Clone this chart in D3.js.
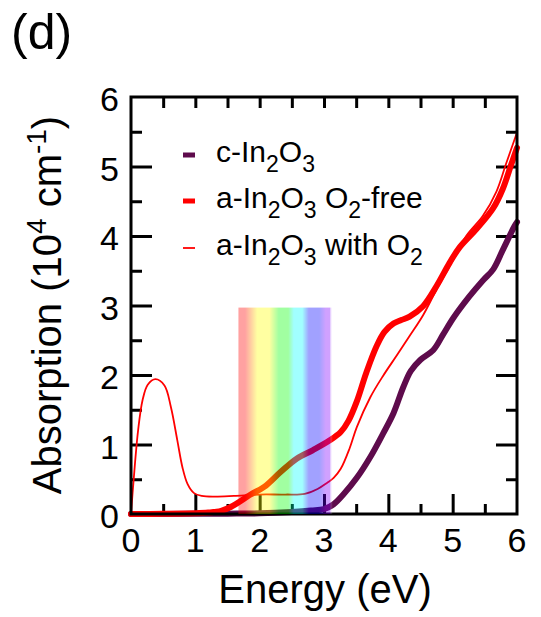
<!DOCTYPE html>
<html>
<head>
<meta charset="utf-8">
<script src="https://cdn.jsdelivr.net/npm/d3@7"></script>
<style>
  html, body { margin: 0; padding: 0; background: #fff; }
  svg { display: block; font-family: "Liberation Sans", Arial, Helvetica, sans-serif; }
</style>
</head>
<body>
<svg id="chart" width="541" height="617"></svg>
<script>
// ---- data ----
const cEnergy = [0, 0.5, 1.0, 1.5, 2.0, 2.5, 2.8, 3.0, 3.15, 3.3, 3.51, 3.72, 3.92, 4.08, 4.23, 4.35, 4.5, 4.7, 4.85, 5.01, 5.26, 5.47, 5.63, 5.78, 5.96, 6.0];
const cAbs    = [0, 0, 0.002, 0.005, 0.01, 0.03, 0.05, 0.07, 0.14, 0.28, 0.52, 0.82, 1.16, 1.45, 1.82, 2.06, 2.22, 2.36, 2.58, 2.82, 3.13, 3.36, 3.52, 3.8, 4.14, 4.2];

const freeEnergy = [0, 0.5, 1.0, 1.2, 1.4, 1.55, 1.86, 2.07, 2.32, 2.58, 2.83, 3.09, 3.26, 3.38, 3.51, 3.66, 3.82, 3.94, 4.08, 4.2, 4.33, 4.54, 4.75, 4.95, 5.11, 5.37, 5.63, 5.78, 5.91, 6.0];
const freeAbs    = [0, 0.003, 0.01, 0.02, 0.045, 0.1, 0.28, 0.39, 0.6, 0.8, 0.92, 1.06, 1.18, 1.34, 1.62, 2.04, 2.42, 2.62, 2.74, 2.79, 2.84, 2.99, 3.28, 3.61, 3.84, 4.1, 4.4, 4.68, 5.03, 5.27];

const o2Energy = [0, 0.04, 0.11, 0.18, 0.26, 0.38, 0.52, 0.62, 0.72, 0.80, 0.88, 0.98, 1.1, 1.3, 1.6, 2.0, 2.4, 2.7, 2.9, 3.05, 3.15, 3.26, 3.4, 3.51, 3.72, 3.92, 4.13, 4.33, 4.54, 4.75, 5.01, 5.21, 5.47, 5.68, 5.83, 6.0];
const o2Abs    = [0, 0.48, 1.2, 1.64, 1.86, 1.94, 1.85, 1.54, 1.06, 0.67, 0.43, 0.3, 0.26, 0.25, 0.26, 0.28, 0.28, 0.29, 0.36, 0.45, 0.52, 0.65, 0.95, 1.25, 1.68, 1.99, 2.28, 2.56, 2.86, 3.23, 3.66, 4.0, 4.29, 4.64, 5.04, 5.49];

const xTicks = [0, 1, 2, 3, 4, 5, 6];
const yTicks = [0, 1, 2, 3, 4, 5, 6];
const minorTicks = [0.5, 1.5, 2.5, 3.5, 4.5, 5.5];
const allHalfTicks = [0.5, 1, 1.5, 2, 2.5, 3, 3.5, 4, 4.5, 5, 5.5];

const visibleBand = [1.67, 3.13];   // energy range of the visible-light band (eV)
const visibleBandTop = 2.97;
const bandColors = ["#ff0000", "#ff0000", "#ffff00", "#ffff00", "#00ff00", "#00ff00", "#00ffff", "#00ffff", "#0000ff", "#0000ff", "#8000ff", "#8000ff", "#ffffff"];
const bandStops  = [0, 0.07, 0.2, 0.33, 0.43, 0.53, 0.59, 0.68, 0.75, 0.86, 0.93, 0.97, 1.0];

const legendLabels = [
  [["c-In", 0], ["2", 1], ["O", 0], ["3", 1]],
  [["a-In", 0], ["2", 1], ["O", 0], ["3", 1], [" O", 0], ["2", 1], ["-free", 0]],
  [["a-In", 0], ["2", 1], ["O", 0], ["3", 1], [" with O", 0], ["2", 1]]
];

// ---- drawing ----
const svg = d3.select("#chart");
const L = 131, R = 517, T = 97, B = 514;
const x = d3.scaleLinear().domain([0, 6]).range([L, R]);
const y = d3.scaleLinear().domain([0, 6]).range([B, T]);

const series = [
  { xs: cEnergy, ys: cAbs, color: "#5e0b4c", width: 6 },
  { xs: freeEnergy, ys: freeAbs, color: "#ff0000", width: 6 },
  { xs: o2Energy, ys: o2Abs, color: "#ff0000", width: 1.8 }
];

// ticks
const tickStyle = g => {
  g.select(".domain").remove();
  g.selectAll(".tick line").attr("stroke", "#000").attr("stroke-width", 3);
  g.selectAll(".tick text").remove();
};
svg.append("g").attr("transform", `translate(0,${B})`)
  .call(d3.axisBottom(x).tickValues(xTicks.slice(1, -1)).tickSize(-20)).call(tickStyle);
svg.append("g").attr("transform", `translate(0,${B})`)
  .call(d3.axisBottom(x).tickValues(minorTicks).tickSize(-10)).call(tickStyle);
svg.append("g").attr("transform", `translate(0,${T})`)
  .call(d3.axisTop(x).tickValues(allHalfTicks).tickSize(-11)).call(tickStyle);
svg.append("g").attr("transform", `translate(${L},0)`)
  .call(d3.axisLeft(y).tickValues(yTicks.slice(1, -1)).tickSize(-21)).call(tickStyle);
svg.append("g").attr("transform", `translate(${L},0)`)
  .call(d3.axisLeft(y).tickValues(minorTicks).tickSize(-11)).call(tickStyle);
svg.append("g").attr("transform", `translate(${R},0)`)
  .call(d3.axisRight(y).tickValues(yTicks.slice(1, -1)).tickSize(-21)).call(tickStyle);
svg.append("g").attr("transform", `translate(${R},0)`)
  .call(d3.axisRight(y).tickValues(minorTicks).tickSize(-11)).call(tickStyle);

// tick labels
svg.append("g").selectAll("text").data(xTicks).join("text")
  .attr("x", d => x(d)).attr("y", 552)
  .attr("text-anchor", "middle").attr("font-size", 34).text(d => d);
svg.append("g").selectAll("text").data(yTicks).join("text")
  .attr("x", 119).attr("y", d => y(d) + 14)
  .attr("text-anchor", "end").attr("font-size", 34).text(d => d);

// curves
const line = d3.line().curve(d3.curveCatmullRom.alpha(0.5));
series.forEach(s => {
  const pts = s.xs.map((e, i) => [x(e), y(s.ys[i])]);
  svg.append("path").attr("d", line(pts))
    .attr("fill", "none").attr("stroke", s.color)
    .attr("stroke-width", s.width).attr("stroke-linejoin", "round").attr("stroke-linecap", "round");
});

// frame
svg.append("rect").attr("x", L).attr("y", T).attr("width", R - L).attr("height", B - T)
  .attr("fill", "none").attr("stroke", "#000").attr("stroke-width", 3);

// visible band
const defs = svg.append("defs");
const grad = defs.append("linearGradient").attr("id", "rainbow")
  .attr("x1", "0%").attr("x2", "100%").attr("y1", "0%").attr("y2", "0%");
bandStops.forEach((o, i) => {
  grad.append("stop").attr("offset", o).attr("stop-color", bandColors[i])
    .attr("stop-opacity", i === bandStops.length - 1 ? 0.1 : 0.37);
});
svg.append("rect")
  .attr("x", x(visibleBand[0])).attr("width", x(visibleBand[1]) - x(visibleBand[0]))
  .attr("y", y(visibleBandTop)).attr("height", y(0) - y(visibleBandTop))
  .attr("fill", "url(#rainbow)");

// legend
const legY = [155, 201, 248];
legendLabels.forEach((parts, i) => {
  const s = series[i];
  svg.append("line").attr("x1", 183).attr("x2", 195).attr("y1", legY[i]).attr("y2", legY[i])
    .attr("stroke", s.color).attr("stroke-width", i === 2 ? 1.8 : 5);
  const t = svg.append("text").attr("x", 216).attr("y", legY[i] + 7).attr("font-size", 30);
  let prevSub = false;
  parts.forEach(([str, sub]) => {
    const ts = t.append("tspan").text(str);
    if (sub && !prevSub) ts.attr("dy", 10).attr("font-size", 23);
    else if (!sub && prevSub) ts.attr("dy", -10);
    prevSub = !!sub;
  });
});

// axis titles
svg.append("text").attr("x", 325).attr("y", 603).attr("text-anchor", "middle")
  .attr("font-size", 40).text("Energy (eV)");
const yl = svg.append("text").attr("transform", "translate(61,305) rotate(-90)")
  .attr("text-anchor", "middle").attr("font-size", 40);
yl.append("tspan").text("Absorption (10");
yl.append("tspan").attr("dy", -15).attr("font-size", 28).text("4");
yl.append("tspan").attr("dy", 15).text(" cm");
yl.append("tspan").attr("dy", -15).attr("font-size", 28).text("-1");
yl.append("tspan").attr("dy", 15).text(")");

// panel label
svg.append("text").attr("x", 11).attr("y", 49).attr("font-size", 50).text("(d)");
</script>
</body>
</html>
